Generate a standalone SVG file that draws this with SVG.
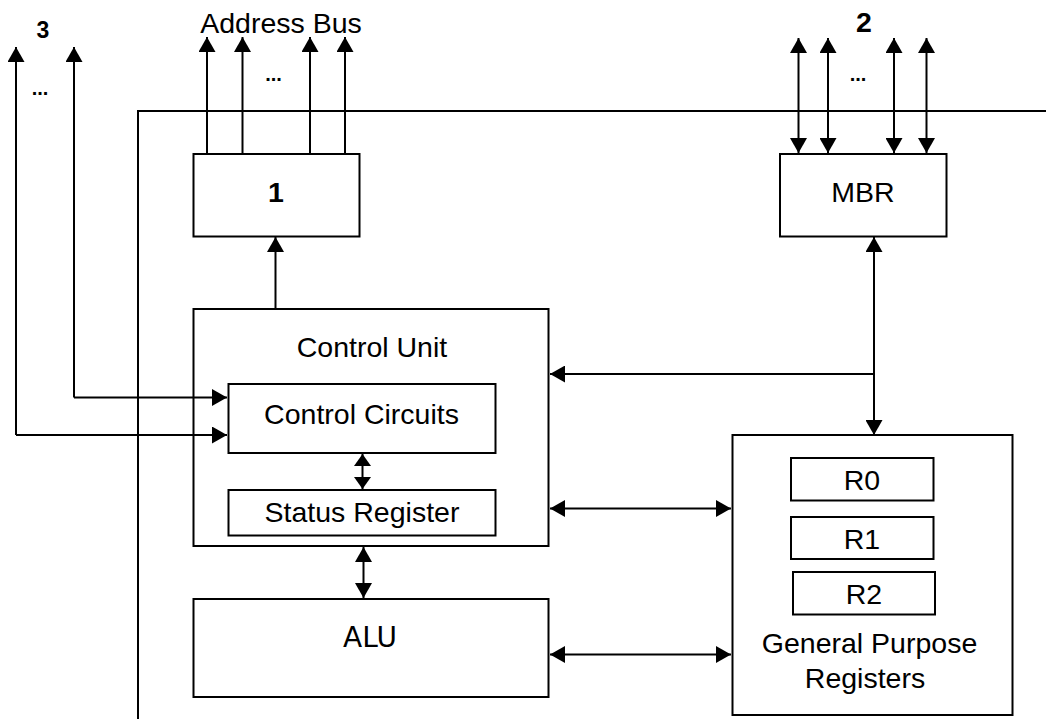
<svg xmlns="http://www.w3.org/2000/svg" width="1046" height="722" viewBox="0 0 1046 722">
<defs>
<marker id="ah" markerUnits="userSpaceOnUse" markerWidth="16" markerHeight="17" refX="15" refY="8.5" orient="auto-start-reverse">
<path d="M0,0 L15,8.5 L0,17 z" fill="#000"/>
</marker>
<marker id="ahs" markerUnits="userSpaceOnUse" markerWidth="13" markerHeight="17" refX="12" refY="8.5" orient="auto-start-reverse">
<path d="M0,0 L12,8.5 L0,17 z" fill="#000"/>
</marker>
</defs>
<style>
.box{fill:#fff;stroke:#000;stroke-width:2}
.ln{fill:none;stroke:#000;stroke-width:2}
.t{font-family:"Liberation Sans",Arial,sans-serif;font-size:28.5px;fill:#000;text-anchor:middle}
.b{font-weight:bold}
.d{font-family:"Liberation Sans",Arial,sans-serif;font-size:20px;font-weight:bold;fill:#000;text-anchor:middle}
.alu{font-family:"DejaVu Sans",sans-serif;font-size:28px;fill:#000;text-anchor:middle}
</style>
<rect width="1046" height="722" fill="#fff"/>

<g id="frame">
<path class="ln" d="M138,719 L138,111 L1046,111"/>
</g>

<g id="mar">
<rect class="box" x="193.5" y="154" width="166" height="82.5"/>
<text class="t b" x="276" y="202">1</text>
</g>

<g id="mbr">
<rect class="box" x="780" y="154" width="166.5" height="82.5"/>
<text class="t" x="863" y="202">MBR</text>
</g>

<g id="control-unit">
<rect class="box" x="193.5" y="309" width="355" height="237"/>
<text class="t" x="372" y="357">Control Unit</text>
</g>

<g id="control-circuits">
<rect class="box" x="228.5" y="384" width="267" height="69"/>
<text class="t" x="361.5" y="424">Control Circuits</text>
</g>

<g id="status-register">
<rect class="box" x="228.5" y="490" width="267" height="45.5"/>
<text class="t" x="362" y="522">Status Register</text>
</g>

<g id="alu">
<rect class="box" x="193.5" y="599" width="355" height="98"/>
<text class="alu" x="370" y="647">ALU</text>
</g>

<g id="gpr">
<rect class="box" x="732.5" y="435" width="280" height="280"/>
<text class="t" x="869.5" y="653">General Purpose</text>
<text class="t" x="865" y="688">Registers</text>
</g>

<g id="r0">
<rect class="box" x="791" y="458" width="142.5" height="42.5"/>
<text class="t" x="862" y="490">R0</text>
</g>
<g id="r1">
<rect class="box" x="791" y="517" width="142.5" height="42"/>
<text class="t" x="862" y="548.5">R1</text>
</g>
<g id="r2">
<rect class="box" x="793" y="572" width="142" height="42.5"/>
<text class="t" x="864" y="603.5">R2</text>
</g>

<g id="connectors">
<line class="ln" x1="207" y1="154" x2="207" y2="37" marker-end="url(#ah)"/>
<line class="ln" x1="242.5" y1="154" x2="242.5" y2="37" marker-end="url(#ah)"/>
<line class="ln" x1="310" y1="154" x2="310" y2="37" marker-end="url(#ah)"/>
<line class="ln" x1="345" y1="154" x2="345" y2="37" marker-end="url(#ah)"/>
<line class="ln" x1="798.5" y1="38" x2="798.5" y2="153" marker-start="url(#ah)" marker-end="url(#ah)"/>
<line class="ln" x1="828" y1="38" x2="828" y2="153" marker-start="url(#ah)" marker-end="url(#ah)"/>
<line class="ln" x1="894" y1="38" x2="894" y2="153" marker-start="url(#ah)" marker-end="url(#ah)"/>
<line class="ln" x1="926.5" y1="38" x2="926.5" y2="153" marker-start="url(#ah)" marker-end="url(#ah)"/>
<path class="ln" d="M16,435 L16,47" marker-end="url(#ah)"/>
<path class="ln" d="M74,397.5 L74,47" marker-end="url(#ah)"/>
<path class="ln" d="M16,435 L227,435" marker-end="url(#ah)"/>
<path class="ln" d="M74,397.5 L227,397.5" marker-end="url(#ah)"/>
<line class="ln" x1="275.5" y1="309" x2="275.5" y2="237" marker-end="url(#ah)"/>
<line class="ln" x1="874" y1="435" x2="874" y2="237" marker-start="url(#ah)" marker-end="url(#ah)"/>
<line class="ln" x1="874" y1="374" x2="550" y2="374" marker-end="url(#ah)"/>
<line class="ln" x1="362.5" y1="454" x2="362.5" y2="489" marker-start="url(#ahs)" marker-end="url(#ahs)"/>
<line class="ln" x1="363.5" y1="547" x2="363.5" y2="598" marker-start="url(#ah)" marker-end="url(#ah)"/>
<line class="ln" x1="550" y1="508.5" x2="731" y2="508.5" marker-start="url(#ah)" marker-end="url(#ah)"/>
<line class="ln" x1="550" y1="654.5" x2="731" y2="654.5" marker-start="url(#ah)" marker-end="url(#ah)"/>
</g>

<g id="labels">
<text class="t" x="281" y="33">Address Bus</text>
<text class="t b" x="864" y="32">2</text>
<text class="t b" x="43" y="38" style="font-size:23px">3</text>
<text class="d" x="273.5" y="81">...</text>
<text class="d" x="858" y="81">...</text>
<text class="d" x="40" y="95">...</text>
</g>
</svg>
